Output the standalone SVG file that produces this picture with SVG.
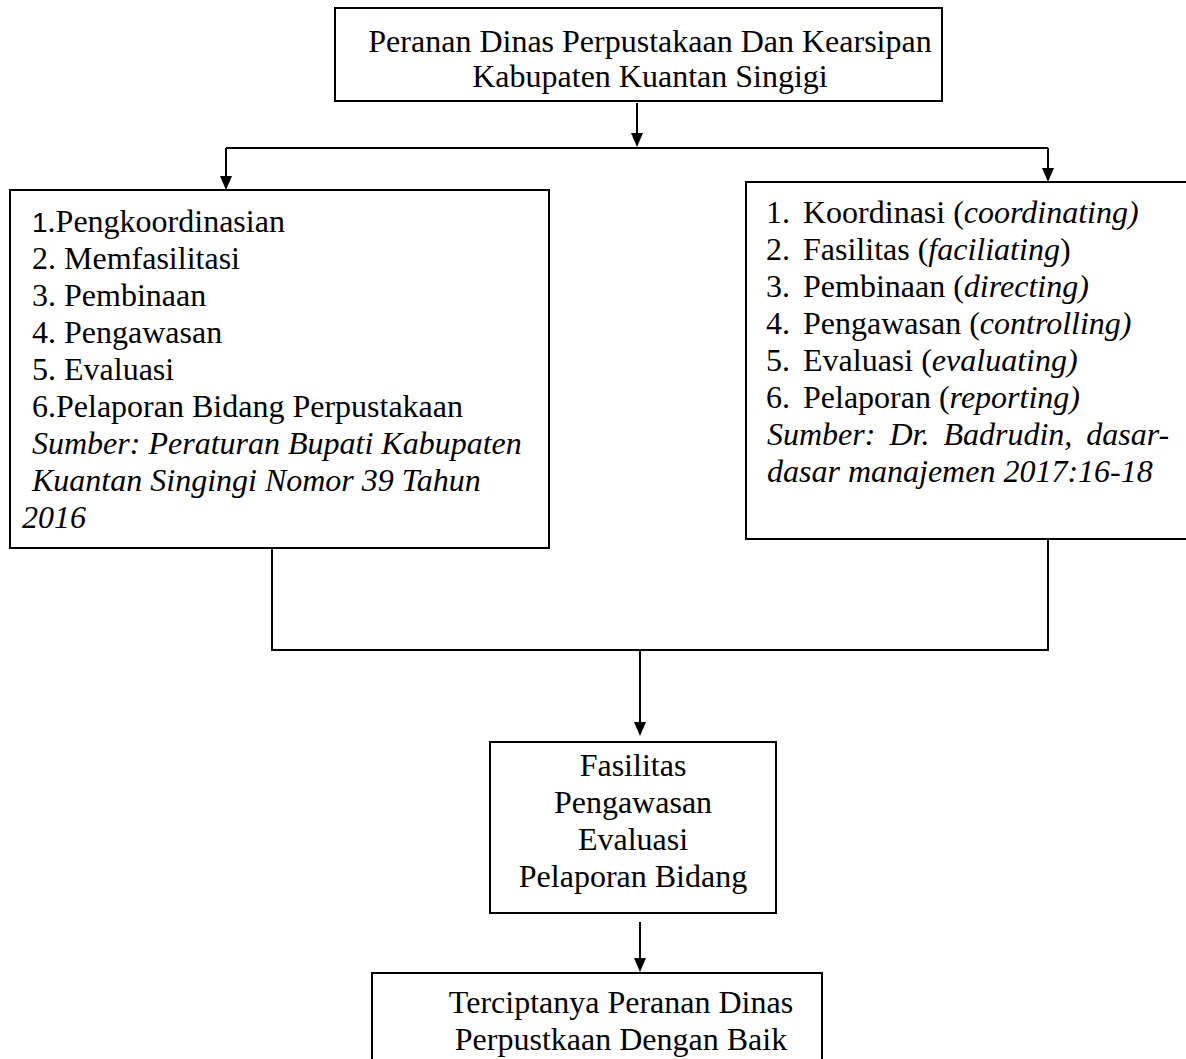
<svg xmlns="http://www.w3.org/2000/svg" width="1186" height="1059" viewBox="0 0 1186 1059">
<style>
.box{fill:#fff;stroke:#000;stroke-width:2}
.t{font-family:"Liberation Serif","Times New Roman",serif;font-size:32px;fill:#000}
.c{text-anchor:middle}
.i{font-style:italic}
.ln{fill:none;stroke:#000;stroke-width:2}
.ah{fill:#000}
</style>
<rect width="1186" height="1059" fill="#fff"/>
<g id="connectors">
<line class="ln" x1="637" y1="103" x2="637" y2="135"/>
<path class="ah" d="M631,133 L643,133 L637,147 Z"/>
<line class="ln" x1="226" y1="148" x2="1048" y2="148"/>
<line class="ln" x1="226" y1="148" x2="226" y2="178"/>
<path class="ah" d="M220,176 L232,176 L226,190 Z"/>
<line class="ln" x1="1048" y1="148" x2="1048" y2="170"/>
<path class="ah" d="M1042,168 L1054,168 L1048,182 Z"/>
<polyline class="ln" points="272,548 272,650 1048,650 1048,539"/>
<line class="ln" x1="640" y1="650" x2="640" y2="724"/>
<path class="ah" d="M634,722 L646,722 L640,736 Z"/>
<line class="ln" x1="640" y1="922" x2="640" y2="960"/>
<path class="ah" d="M634,958 L646,958 L640,972 Z"/>
</g>
<g id="node-top">
<rect class="box" x="335" y="8" width="607" height="93"/>
<text class="t c" x="650" y="52">Peranan Dinas Perpustakaan Dan Kearsipan</text>
<text class="t c" x="650" y="87">Kabupaten Kuantan Singigi</text>
</g>
<g id="node-left">
<rect class="box" x="10" y="190" width="539" height="358"/>
<text class="t" x="32" y="232"><tspan font-family="Liberation Sans, Arial, sans-serif" font-size="28">1</tspan>.Pengkoordinasian</text>
<text class="t" x="32" y="269">2. Memfasilitasi</text>
<text class="t" x="32" y="306">3. Pembinaan</text>
<text class="t" x="32" y="343">4. Pengawasan</text>
<text class="t" x="32" y="380">5. Evaluasi</text>
<text class="t" x="32" y="417">6.Pelaporan Bidang Perpustakaan</text>
<text class="t i" x="32" y="454">Sumber: Peraturan Bupati Kabupaten</text>
<text class="t i" x="32" y="491">Kuantan Singingi Nomor 39 Tahun</text>
<text class="t i" x="22" y="528">2016</text>
</g>
<g id="node-right">
<rect class="box" x="746" y="182" width="445" height="357"/>
<text class="t" x="766" y="223">1.</text><text class="t" x="803" y="223">Koordinasi (<tspan class="i">coordinating)</tspan></text>
<text class="t" x="766" y="260">2.</text><text class="t" x="803" y="260">Fasilitas (<tspan class="i">faciliating</tspan>)</text>
<text class="t" x="766" y="297">3.</text><text class="t" x="803" y="297">Pembinaan (<tspan class="i">directing)</tspan></text>
<text class="t" x="766" y="334">4.</text><text class="t" x="803" y="334">Pengawasan (<tspan class="i">controlling)</tspan></text>
<text class="t" x="766" y="371">5.</text><text class="t" x="803" y="371">Evaluasi (<tspan class="i">evaluating)</tspan></text>
<text class="t" x="766" y="408">6.</text><text class="t" x="803" y="408">Pelaporan (<tspan class="i">reporting)</tspan></text>
<text class="t i" x="767" y="445" word-spacing="6">Sumber: Dr. Badrudin, dasar-</text>
<text class="t i" x="767" y="482">dasar manajemen 2017:16-18</text>
</g>
<g id="node-middle">
<rect class="box" x="490" y="742" width="286" height="171"/>
<text class="t c" x="633" y="776">Fasilitas</text>
<text class="t c" x="633" y="813">Pengawasan</text>
<text class="t c" x="633" y="850">Evaluasi</text>
<text class="t c" x="633" y="887">Pelaporan Bidang</text>
</g>
<g id="node-bottom">
<rect class="box" x="372" y="973" width="450" height="100"/>
<text class="t c" x="621" y="1013">Terciptanya Peranan Dinas</text>
<text class="t c" x="621" y="1050">Perpustkaan Dengan Baik</text>
</g>
</svg>
